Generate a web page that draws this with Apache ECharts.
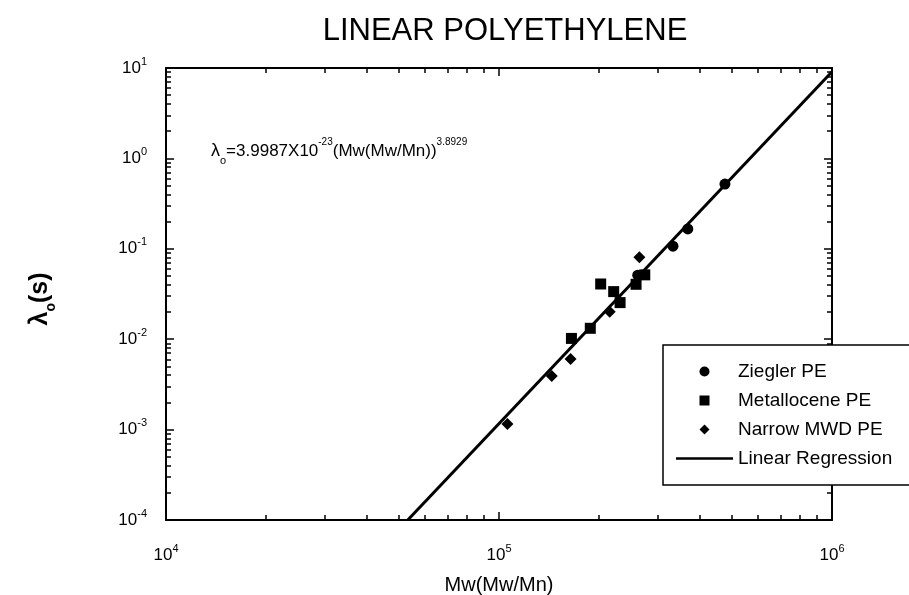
<!DOCTYPE html>
<html>
<head>
<meta charset="utf-8">
<script src="https://cdn.jsdelivr.net/npm/echarts@6/dist/echarts.min.js"></script>
<style>html,body{margin:0;padding:0;background:#fff}#c{width:909px;height:595px}</style>
</head>
<body>
<div id="c"></div>
<script>
// ---- data ----
const zieglerX = [477000, 369000, 333000, 261000];
const zieglerY = [0.52, 0.166, 0.107, 0.051];
const metalloceneX = [274000, 258000, 202000, 221000, 231000, 188000, 165000];
const metalloceneY = [0.0515, 0.0405, 0.0408, 0.0336, 0.0254, 0.0132, 0.0102];
const narrowX = [264000, 215000, 164000, 144000, 106000];
const narrowY = [0.0805, 0.0201, 0.00604, 0.00392, 0.00115];
// regression from the equation shown on the chart
const regA = 3.9987e-23;
const regB = 3.8929;
const xMin = 1e4, xMax = 1e6, yMin = 1e-4, yMax = 10;
const seriesNames = ['Ziegler PE', 'Metallocene PE', 'Narrow MWD PE', 'Linear Regression'];
const titleText = 'LINEAR POLYETHYLENE';
const xName = 'Mw(Mw/Mn)';

const zip = (a, b) => a.map((v, i) => [v, b[i]]);
// regression line: from where it enters the plot (y = yMin) to x = xMax
const xStart = Math.pow(yMin / regA, 1 / regB);
const regLine = [xStart, xMax].map(x => [x, regA * Math.pow(x, regB)]);

// minor tick positions (log10 space)
function minorTicks(lo, hi) {
  const out = [];
  for (let d = lo; d < hi; d++) for (let k = 2; k <= 9; k++) out.push(d + Math.log10(k));
  return out;
}
function majorTicks(lo, hi) { const o = []; for (let d = lo; d <= hi; d++) o.push(d); return o; }

const FONT = '"Liberation Sans", Arial, Helvetica, sans-serif';
const expRich = {
  b: { fontSize: 17, lineHeight: 24, color: '#000', fontFamily: FONT },
  e: { fontSize: 11, lineHeight: 11, verticalAlign: 'top', color: '#000', fontFamily: FONT }
};
const expFmt = v => '{b|10}{e|' + Math.round(Math.log10(v)) + '}';

const black = '#000';
function overlayAxis(pos, lo, hi, ticks, len, showLine) {
  return {
    type: 'value', position: pos, min: lo, max: hi, gridIndex: 0,
    axisLine: { show: !!showLine, onZero: false, lineStyle: { color: black, width: 2 } },
    splitLine: { show: false },
    axisLabel: { show: false },
    axisTick: { show: true, inside: true, length: len, customValues: ticks,
      lineStyle: { color: black, width: 1.5 } }
  };
}

const chart = echarts.init(document.getElementById('c'), null, { renderer: 'canvas' });
chart.setOption({
  backgroundColor: '#fff',
  animation: false,
  textStyle: { fontFamily: FONT, color: black },
  title: {
    text: titleText, left: 500, top: 11, textAlign: 'center',
    textStyle: { fontSize: 31, fontWeight: 'normal', color: black, fontFamily: FONT }
  },
  grid: { left: 166, right: 77, top: 68, bottom: 75, containLabel: false, outerBoundsMode: 'none' },
  xAxis: [
    {
      type: 'log', logBase: 10, min: xMin, max: xMax, position: 'bottom',
      name: xName, nameLocation: 'middle', nameGap: 55,
      nameTextStyle: { fontSize: 20, color: black, fontFamily: FONT },
      axisLine: { onZero: false, lineStyle: { color: black, width: 2 } },
      axisTick: { inside: true, length: 8, lineStyle: { color: black, width: 1.5 } },
      axisLabel: { margin: 23, formatter: expFmt, rich: expRich },
      splitLine: { show: false }
    },
    overlayAxis('bottom', 4, 6, minorTicks(4, 6), 5, false),
    overlayAxis('top', 4, 6, majorTicks(4, 6), 8, true),
    overlayAxis('top', 4, 6, minorTicks(4, 6), 5, false)
  ],
  yAxis: [
    {
      type: 'log', logBase: 10, min: yMin, max: yMax, position: 'left',
      axisLine: { onZero: false, lineStyle: { color: black, width: 2 } },
      axisTick: { inside: true, length: 8, lineStyle: { color: black, width: 1.5 } },
      axisLabel: { margin: 19, formatter: expFmt, rich: expRich },
      splitLine: { show: false }
    },
    overlayAxis('left', -4, 1, minorTicks(-4, 1), 5, false),
    overlayAxis('right', -4, 1, majorTicks(-4, 1), 8, true),
    overlayAxis('right', -4, 1, minorTicks(-4, 1), 5, false)
  ],
  legend: {
    orient: 'vertical', left: 663, top: 345,
    padding: [17, 40, 17, 13],
    itemWidth: 57, itemHeight: 10, itemGap: 10,
    symbolKeepAspect: true,
    borderColor: black, borderWidth: 1.5, backgroundColor: '#fff',
    textStyle: { fontSize: 19, lineHeight: 18, color: black, fontFamily: FONT },
    data: [
      { name: seriesNames[0], icon: 'circle', itemStyle: { color: black, opacity: 1 } },
      { name: seriesNames[1], icon: 'path://M0,0L10,0L10,10L0,10Z', itemStyle: { color: black, opacity: 1 } },
      { name: seriesNames[2], icon: 'path://M5,0L10,5L5,10L0,5Z', itemStyle: { color: black, opacity: 1 } },
      { name: seriesNames[3], icon: 'path://M0,0L60,0L60,2.6L0,2.6Z', itemStyle: { color: black, opacity: 1 } }
    ]
  },
  graphic: [
    {
      type: 'text', left: 211, top: 137, z: 10,
      style: {
        text: '{l|λ}{s|o}{t|=3.9987X10}{p|-23}{t|(Mw(Mw/Mn))}{p|3.8929}',
        rich: {
          l: { fontSize: 18, lineHeight: 29, fontFamily: FONT, fill: black },
          t: { fontSize: 17, lineHeight: 29, fontFamily: FONT, fill: black },
          p: { fontSize: 10, lineHeight: 10, verticalAlign: 'top', fontFamily: FONT, fill: black },
          s: { fontSize: 11, lineHeight: 11, verticalAlign: 'bottom', fontFamily: FONT, fill: black }
        }
      }
    },
    {
      type: 'text', x: 40, y: 299, rotation: Math.PI / 2, z: 10,
      style: {
        text: '{l|λ}{s|o}{t|(s)}', align: 'center', verticalAlign: 'middle',
        rich: {
          l: { fontSize: 25, lineHeight: 36, fontWeight: 'bold', fontFamily: FONT, fill: black },
          s: { fontSize: 14, lineHeight: 14, verticalAlign: 'bottom', fontWeight: 'bold', fontFamily: FONT, fill: black },
          t: { fontSize: 25, lineHeight: 36, fontWeight: 'bold', fontFamily: FONT, fill: black }
        }
      }
    }
  ],
  series: [
    {
      name: seriesNames[3], type: 'line', data: regLine, xAxisIndex: 0, yAxisIndex: 0,
      showSymbol: false, symbol: 'none', z: 1,
      lineStyle: { color: black, width: 3 }, itemStyle: { color: black }
    },
    {
      name: seriesNames[0], type: 'scatter', data: zip(zieglerX, zieglerY),
      symbol: 'circle', symbolSize: 11, itemStyle: { color: black, opacity: 1 }, z: 3
    },
    {
      name: seriesNames[1], type: 'scatter', data: zip(metalloceneX, metalloceneY),
      symbol: 'rect', symbolSize: 11, itemStyle: { color: black, opacity: 1 }, z: 3
    },
    {
      name: seriesNames[2], type: 'scatter', data: zip(narrowX, narrowY),
      symbol: 'diamond', symbolSize: 12, itemStyle: { color: black, opacity: 1 }, z: 3
    }
  ]
});
</script>
</body>
</html>
